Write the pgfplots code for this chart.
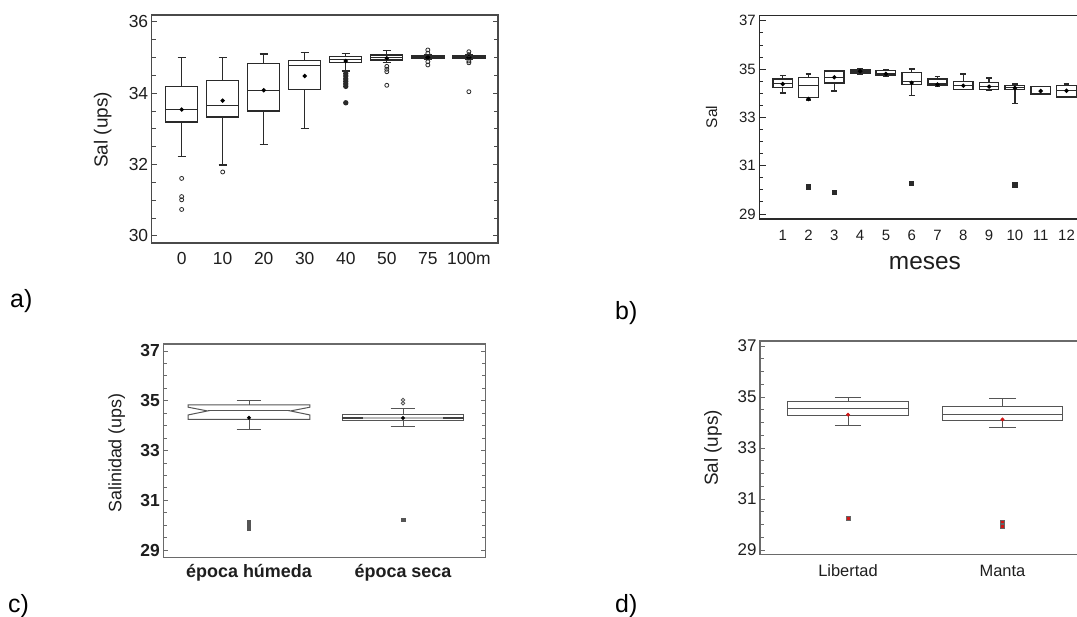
\documentclass[border=0pt]{standalone}
\usepackage{fontspec}
\setmainfont{Liberation Sans}
\usepackage{pgfplots}
\pgfplotsset{compat=1.18}
\usepgfplotslibrary{statistics}
\definecolor{txt}{HTML}{1E1E1E}
\definecolor{fra}{HTML}{4A4A4A}
\definecolor{fra2}{HTML}{6A6A6A}
\definecolor{boxc}{HTML}{2A2A2A}
\definecolor{boxg}{HTML}{555555}
\definecolor{redm}{HTML}{D01818}
\pgfplotsset{
  base/.style={
    scale only axis, anchor=south west,
    /pgf/number format/assume math mode=true,
    axis line style={fra, line width=1.2bp},
    ytick pos=both, tick align=inside,
    xtick style={draw=none},
    ytick style={fra, line width=0.8bp},
    major tick length=5bp, minor tick length=4bp,
    minor y tick num=3,
    tick label style={txt},
    boxplot/draw direction=y,
    every axis y label/.style={rotate=90, anchor=center, txt},
  },
  bx/.style={boxc, line width=1.3bp, solid},
  avgdot/.style={boxplot/draw/average/.code={\fill[#1] (boxplot box cs:\pgfplotsboxplotvalue{average},0.5) circle[radius=1.4bp];}},
}
\begin{document}
\begin{tikzpicture}
\useasboundingbox (0bp,0bp) rectangle (1077bp,617bp);
\clip (0bp,0bp) rectangle (1077bp,617bp);
\fill[white] (0bp,0bp) rectangle (1077bp,617bp);

% ---------------- panel a ----------------
\begin{axis}[base, at={(151.7bp,374bp)}, width=346.3bp, height=228bp,
  axis line style={fra, line width=1.4bp},
  xmin=0.27, xmax=8.71, ymin=29.8, ymax=36.19,
  xtick={1,...,8}, xticklabels={0,10,20,30,40,50,75,100m},
  ytick={30,32,34,36},
  tick label style={font=\fontsize{17.5}{20}\selectfont},
  xticklabel style={yshift=-6bp},
  ylabel={Sal (ups)}, ylabel style={font=\fontsize{19}{22}\selectfont},
  every axis y label/.append style={at={(axis description cs:-0.1415,0.496)}},
  boxplot/box extend=0.78, boxplot/whisker extend=0.2,
  avgdot=black]
\addplot[bx, mark=o, mark size=2bp, mark options={line width=0.8bp}, boxplot prepared={draw position=1, lower whisker=32.22, lower quartile=33.19, median=33.54, upper quartile=34.19, upper whisker=35.0, average=33.54}] coordinates {(1,31.61)(1,31.10)(1,31.01)(1,30.74)};
\addplot[bx, mark=o, mark size=2bp, mark options={line width=0.8bp}, boxplot prepared={draw position=2, lower whisker=31.99, lower quartile=33.33, median=33.65, upper quartile=34.35, upper whisker=34.99, average=33.79}] coordinates {(2,31.79)};
\addplot[bx, mark=o, mark size=2bp, boxplot prepared={draw position=3, lower whisker=32.57, lower quartile=33.50, median=34.07, upper quartile=34.84, upper whisker=35.10, average=34.08}] coordinates {};
\addplot[bx, mark=o, mark size=2bp, boxplot prepared={draw position=4, lower whisker=33.00, lower quartile=34.11, median=34.78, upper quartile=34.91, upper whisker=35.13, average=34.48}] coordinates {};
\addplot[bx, mark=*, mark size=2bp, boxplot prepared={draw position=5, lower whisker=34.62, lower quartile=34.86, median=34.94, upper quartile=35.03, upper whisker=35.12, average=34.90}] coordinates {(5,34.55)(5,34.48)(5,34.40)(5,34.33)(5,34.26)(5,34.19)(5,33.73)};
\addplot[bx, mark=o, mark size=2bp, mark options={line width=0.8bp}, boxplot prepared={draw position=6, lower whisker=34.85, lower quartile=34.93, median=34.99, upper quartile=35.07, upper whisker=35.19, average=34.98}] coordinates {(6,34.75)(6,34.67)(6,34.60)(6,34.22)};
\addplot[bx, line width=1.8bp, mark=o, mark size=2bp, mark options={line width=0.8bp}, boxplot prepared={draw position=7, lower whisker=34.94, lower quartile=34.98, median=35.0, upper quartile=35.03, upper whisker=35.06, average=35.0}] coordinates {(7,35.21)(7,35.12)(7,34.88)(7,34.79)};
\addplot[bx, line width=1.8bp, mark=o, mark size=2bp, mark options={line width=0.8bp}, boxplot prepared={draw position=8, lower whisker=34.94, lower quartile=34.98, median=35.0, upper quartile=35.03, upper whisker=35.06, average=35.0}] coordinates {(8,35.16)(8,35.08)(8,34.90)(8,34.85)(8,34.04)};
\end{axis}

% ---------------- panel b ----------------
\begin{axis}[base, at={(759.3bp,398bp)}, width=330.6bp, height=203.3bp,
  axis line style={boxc, line width=1.2bp}, ytick style={boxc, line width=0.8bp},
  major tick length=6.5bp,
  xmin=0.093, xmax=12.907, ymin=28.79, ymax=37.21,
  xtick={1,...,12}, ytick={29,31,33,35,37},
  tick label style={font=\fontsize{15}{18}\selectfont},
  xticklabel style={yshift=-8bp},
  ylabel={Sal}, ylabel style={font=\fontsize{15.5}{18}\selectfont},
  every axis y label/.append style={at={(axis description cs:-0.144,0.502)}},
  xlabel={meses},
  every axis x label/.style={at={(axis description cs:0.501,-0.216)}, anchor=center, font=\fontsize{24.5}{28}\selectfont, txt},
  boxplot/box extend=0.75, boxplot/whisker extend=0.22,
  avgdot=black]
\addplot[bx, line width=1.3bp, mark=square*, mark size=2bp, boxplot prepared={draw position=1, lower whisker=34.01, lower quartile=34.23, median=34.41, upper quartile=34.59, upper whisker=34.74, average=34.38}] coordinates {};
\addplot[bx, line width=1.3bp, mark=square*, mark size=2bp, boxplot prepared={draw position=2, lower whisker=33.72, lower quartile=33.83, median=34.32, upper quartile=34.66, upper whisker=34.79, average=33.76}] coordinates {(2,30.12)};
\addplot[bx, line width=1.3bp, mark=square*, mark size=2bp, boxplot prepared={draw position=3, lower whisker=34.09, lower quartile=34.42, median=34.66, upper quartile=34.92, upper whisker=34.92, average=34.66}] coordinates {(3,29.90)};
\addplot[bx, line width=1.5bp, mark=square*, mark size=2bp, boxplot prepared={draw position=4, lower whisker=34.80, lower quartile=34.83, median=34.92, upper quartile=34.96, upper whisker=35.0, average=34.91}] coordinates {};
\addplot[bx, line width=1.5bp, mark=square*, mark size=2bp, boxplot prepared={draw position=5, lower whisker=34.70, lower quartile=34.74, median=34.79, upper quartile=34.93, upper whisker=34.99, average=34.80}] coordinates {};
\addplot[bx, line width=1.3bp, mark=square*, mark size=2bp, boxplot prepared={draw position=6, lower whisker=33.90, lower quartile=34.37, median=34.48, upper quartile=34.86, upper whisker=35.0, average=34.43}] coordinates {(6,30.26)};
\addplot[bx, line width=1.5bp, mark=square*, mark size=2bp, boxplot prepared={draw position=7, lower whisker=34.30, lower quartile=34.32, median=34.38, upper quartile=34.59, upper whisker=34.70, average=34.36}] coordinates {};
\addplot[bx, line width=1.3bp, mark=square*, mark size=2bp, boxplot prepared={draw position=8, lower whisker=34.16, lower quartile=34.16, median=34.31, upper quartile=34.49, upper whisker=34.79, average=34.31}] coordinates {};
\addplot[bx, line width=1.3bp, mark=square*, mark size=2bp, boxplot prepared={draw position=9, lower whisker=34.13, lower quartile=34.16, median=34.28, upper quartile=34.43, upper whisker=34.63, average=34.27}] coordinates {};
\addplot[bx, line width=1.5bp, mark=square*, mark size=2bp, boxplot prepared={draw position=10, lower whisker=33.57, lower quartile=34.16, median=34.24, upper quartile=34.32, upper whisker=34.38, average=34.22}] coordinates {(10,30.20)};
\addplot[bx, line width=1.5bp, mark=square*, mark size=2bp, boxplot prepared={draw position=11, lower whisker=33.94, lower quartile=33.94, median=33.98, upper quartile=34.28, upper whisker=34.28, average=34.09}] coordinates {};
\addplot[bx, line width=1.3bp, mark=square*, mark size=2bp, boxplot prepared={draw position=12, lower whisker=33.84, lower quartile=33.84, median=34.10, upper quartile=34.31, upper whisker=34.38, average=34.10}] coordinates {};
\end{axis}

% ---------------- panel c ----------------
\begin{axis}[base, at={(163.3bp,59.7bp)}, width=322.4bp, height=213.3bp,
  axis line style={fra2, line width=1.1bp}, ytick style={fra2, line width=0.8bp},
  xmin=0.4435, xmax=2.537, ymin=28.71, ymax=37.28,
  xtick={1,2}, xticklabels={época húmeda, época seca},
  ytick={29,31,33,35,37},
  yticklabel style={font=\bfseries\fontsize{17.5}{20}\selectfont},
  xticklabel style={font=\bfseries\fontsize{18}{21}\selectfont, yshift=-4bp},
  ylabel={Salinidad (ups)}, ylabel style={font=\fontsize{18}{21}\selectfont},
  every axis y label/.append style={at={(axis description cs:-0.1445,0.489)}},
  boxplot/box extend=0.79, boxplot/whisker extend=0.16,
  avgdot=black]
\addplot[boxg, line width=1bp, solid, mark=square*, mark size=1.7bp,
  boxplot/draw/box/.code={\draw[boxg, line width=1bp]
    (boxplot box cs:\pgfplotsboxplotvalue{lower quartile},0) -- (boxplot box cs:34.43,0) -- (boxplot box cs:\pgfplotsboxplotvalue{median},0.16) -- (boxplot box cs:34.74,0) -- (boxplot box cs:\pgfplotsboxplotvalue{upper quartile},0) -- (boxplot box cs:\pgfplotsboxplotvalue{upper quartile},1) -- (boxplot box cs:34.74,1) -- (boxplot box cs:\pgfplotsboxplotvalue{median},0.84) -- (boxplot box cs:34.43,1) -- (boxplot box cs:\pgfplotsboxplotvalue{lower quartile},1) -- cycle;},
  boxplot/draw/median/.code={\draw[boxg, line width=1bp] (boxplot box cs:\pgfplotsboxplotvalue{median},0.16) -- (boxplot box cs:\pgfplotsboxplotvalue{median},0.84);},
  boxplot prepared={draw position=1, lower whisker=33.84, lower quartile=34.25, median=34.59, upper quartile=34.83, upper whisker=35.02, average=34.32}] coordinates {(1,30.14)(1,30.00)(1,29.84)};
\addplot[boxg, line width=1bp, solid, mark=o, mark size=1.7bp, mark options={line width=0.9bp},
  boxplot/draw/median/.code={\draw[gray!55, line width=2.6bp] (boxplot box cs:\pgfplotsboxplotvalue{median},0.17) -- (boxplot box cs:\pgfplotsboxplotvalue{median},0.83);
    \draw[black!75, line width=2.6bp] (boxplot box cs:\pgfplotsboxplotvalue{median},0) -- (boxplot box cs:\pgfplotsboxplotvalue{median},0.17);
    \draw[black!75, line width=2.6bp] (boxplot box cs:\pgfplotsboxplotvalue{median},0.83) -- (boxplot box cs:\pgfplotsboxplotvalue{median},1);},
  boxplot prepared={draw position=2, lower whisker=33.96, lower quartile=34.19, median=34.31, upper quartile=34.43, upper whisker=34.69, average=34.31}] coordinates {(2,35.03)(2,34.90)};
\addplot[boxg, only marks, mark=square*, mark size=1.7bp] coordinates {(2,30.23)};
\end{axis}

% ---------------- panel d ----------------
\begin{axis}[base, at={(760bp,62.7bp)}, width=330.4bp, height=213.3bp,
  axis line style={fra2, line width=1.1bp}, ytick style={fra2, line width=0.8bp},
  xmin=0.43, xmax=2.57, ymin=28.83, ymax=37.2,
  xtick={1,2}, xticklabels={Libertad, Manta},
  ytick={29,31,33,35,37},
  yticklabel style={font=\fontsize{17}{20}\selectfont},
  xticklabel style={font=\fontsize{16.5}{19}\selectfont, yshift=-7bp},
  ylabel={Sal (ups)}, ylabel style={font=\fontsize{19}{22}\selectfont},
  every axis y label/.append style={at={(axis description cs:-0.142,0.498)}},
  boxplot/box extend=0.78, boxplot/whisker extend=0.17,
  avgdot=redm]
\addplot[boxg, line width=1bp, solid, mark=square*, mark size=1.8bp, mark options={fill=redm, draw=black!60, line width=0.5bp}, boxplot prepared={draw position=1, lower whisker=33.89, lower quartile=34.27, median=34.54, upper quartile=34.82, upper whisker=34.99, average=34.31}] coordinates {(1,30.24)};
\addplot[boxg, line width=1bp, solid, mark=square*, mark size=1.8bp, mark options={fill=redm, draw=black!60, line width=0.5bp}, boxplot prepared={draw position=2, lower whisker=33.81, lower quartile=34.07, median=34.32, upper quartile=34.62, upper whisker=34.95, average=34.12}] coordinates {(2,30.11)(2,29.94)};
\end{axis}

% ---------------- panel letters ----------------
\node[anchor=base west, inner sep=0pt, font=\fontsize{25}{30}\selectfont] at (10bp,309bp) {a)};
\node[anchor=base west, inner sep=0pt, font=\fontsize{25}{30}\selectfont] at (615bp,297bp) {b)};
\node[anchor=base west, inner sep=0pt, font=\fontsize{25}{30}\selectfont] at (8bp,5bp) {c)};
\node[anchor=base west, inner sep=0pt, font=\fontsize{25}{30}\selectfont] at (615bp,5bp) {d)};
\end{tikzpicture}
\end{document}
